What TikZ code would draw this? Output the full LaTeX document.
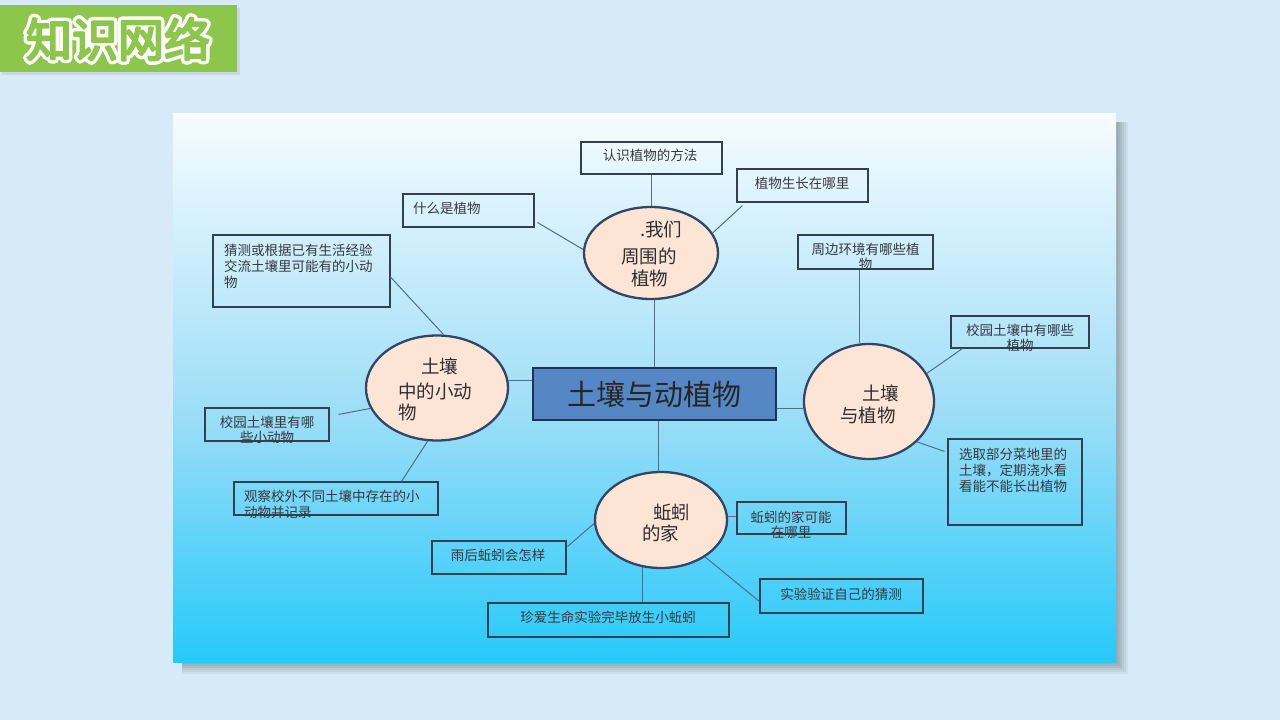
\documentclass[tikz,border=0pt]{standalone}
\usepackage{fontspec}
\usetikzlibrary{shapes.geometric,calc}
\newfontfamily\cjk{Noto Sans CJK SC}
\definecolor{bgc}{RGB}{214,235,247}
\definecolor{titlegreen}{RGB}{140,198,74}
\definecolor{ellfill}{RGB}{253,229,213}
\definecolor{ellc}{RGB}{50,70,104}
\definecolor{boxc}{RGB}{50,64,80}
\definecolor{linkc}{RGB}{80,110,140}
\definecolor{txtc}{RGB}{55,55,60}
\definecolor{etxtc}{RGB}{45,45,50}
\definecolor{cfill}{RGB}{84,135,196}
\definecolor{cborder}{RGB}{28,52,88}
\pgfdeclareverticalshading{panelshade}{100bp}{rgb(0bp)=(0.15,0.79,0.98); rgb(25bp)=(0.15,0.79,0.98); rgb(48bp)=(0.62,0.87,0.97); rgb(75bp)=(0.965,0.988,1); rgb(100bp)=(0.965,0.988,1)}
\tikzset{
  ell/.style={ellipse, draw=ellc, line width=2.3pt, fill=ellfill, inner sep=0pt},
  box/.style={rectangle, draw=boxc, line width=1.1pt, inner sep=0pt},
  link/.style={draw=linkc, line width=1pt},
  btxt/.style={font=\cjk\fontsize{13.5}{16}\selectfont, text=txtc, inner sep=0pt},
  etxt/.style={font=\cjk\fontsize{18.5}{23}\selectfont, text=etxtc, inner sep=0pt, anchor=west},
  titlefont/.style={font=\cjk\fontsize{46}{50}\selectfont, inner sep=0pt},
}
\begin{document}
\begin{tikzpicture}[x=1pt,y=-1pt]
\useasboundingbox (0,0) rectangle (1280,720);
\fill[bgc] (0,0) rectangle (1280,720);
% title
\fill[black,opacity=0.08] (2,8) rectangle (240,75);
\node[rectangle, fill=titlegreen, minimum width=237pt, minimum height=67pt, inner sep=0pt] (title) at (118.5,38.5) {};
\node[titlefont, text=white] (titleout) at (118,39) {\special{pdf:literal direct 2 Tr 9 w 1 j 1 J 1 1 1 RG}知识网络\special{pdf:literal direct 0 Tr}};
\node[titlefont, text=titlegreen] (titletxt) at (118,39) {\special{pdf:literal direct 2 Tr 2.2 w 1 j 1 J}知识网络\special{pdf:literal direct 0 Tr}};
% panel shadow
\foreach \d in {2,4,...,12} {
  \fill[black,opacity=0.05] (182,122) rectangle (1116+\d,662+\d);
}
\shade[shading=panelshade] (173,113) rectangle (1116,662);
% central box
\node[rectangle, draw=cborder, line width=2pt, fill=cfill, minimum width=243pt, minimum height=52pt, inner sep=0pt,
      font=\cjk\fontsize{29}{32}\selectfont, text=black!85] (c) at (654.5,394) {土壤与动植物};
% ellipses
\node[ell, minimum width=134pt, minimum height=92pt] (e1) at (651,253) {};
\node[ell, minimum width=142pt, minimum height=105pt] (e2) at (437,388) {};
\node[ell, minimum width=130pt, minimum height=115pt] (e3) at (869,401.5) {};
\node[ell, minimum width=132pt, minimum height=96pt] (e4) at (661,520) {};
% ellipse texts
\node[etxt] (e1a) at (640,230) {.我们};
\node[etxt] (e1b) at (621,256) {周围的};
\node[etxt] (e1c) at (631,278) {植物};
\node[etxt] (e2a) at (421,366) {土壤};
\node[etxt] (e2b) at (398,391) {中的小动};
\node[etxt] (e2c) at (398,412) {物};
\node[etxt] (e3a) at (862,393) {土壤};
\node[etxt] (e3b) at (840,415) {与植物};
\node[etxt] (e4a) at (653,512) {蚯蚓};
\node[etxt] (e4b) at (642,533) {的家};
% boxes
\node[box, minimum width=141pt, minimum height=32pt] (b1) at (651.5,158) {};
\node[box, minimum width=131pt, minimum height=33pt] (b2) at (802.5,185.5) {};
\node[box, minimum width=131pt, minimum height=33pt] (b3) at (468.5,210.5) {};
\node[box, minimum width=177pt, minimum height=72pt] (b4) at (301.5,271) {};
\node[box, minimum width=135pt, minimum height=34pt] (b5) at (865.5,252) {};
\node[box, minimum width=138pt, minimum height=32pt] (b6) at (1020,332) {};
\node[box, minimum width=134pt, minimum height=86pt] (b7) at (1015,482) {};
\node[box, minimum width=124pt, minimum height=33pt] (b9) at (267,424.5) {};
\node[box, minimum width=204pt, minimum height=33pt] (b10) at (336,498.5) {};
\node[box, minimum width=109pt, minimum height=32pt] (b11) at (791.5,518) {};
\node[box, minimum width=134pt, minimum height=33pt] (b12) at (499,557.5) {};
\node[box, minimum width=163pt, minimum height=34pt] (b13) at (841.5,596) {};
\node[box, minimum width=241pt, minimum height=34pt] (b14) at (608.5,620) {};
% box texts
\node[btxt] (t1) at (650,155) {认识植物的方法};
\node[btxt] (t2) at (802,183) {植物生长在哪里};
\node[btxt, anchor=west] (t3) at (413,208) {什么是植物};
\node[btxt, anchor=west, align=left] (t4) at (224,266) {猜测或根据已有生活经验\\交流土壤里可能有的小动\\物};
\node[btxt, align=center, font=\cjk\fontsize{13.5}{14.5}\selectfont] (t5) at (865.5,257) {周边环境有哪些植\\物};
\node[btxt, align=center, font=\cjk\fontsize{13.5}{15}\selectfont] (t6) at (1020,337.5) {校园土壤中有哪些\\植物};
\node[btxt, anchor=west, align=left] (t7) at (959,470) {选取部分菜地里的\\土壤，定期浇水看\\看能不能长出植物};
\node[btxt, align=center, font=\cjk\fontsize{13.5}{15}\selectfont] (t9) at (267,429.5) {校园土壤里有哪\\些小动物};
\node[btxt, anchor=west, align=left] (t10) at (244,504) {观察校外不同土壤中存在的小\\动物并记录};
\node[btxt, align=center, font=\cjk\fontsize{13.5}{15}\selectfont] (t11) at (791,524.5) {蚯蚓的家可能\\在哪里};
\node[btxt] (t12) at (498,555) {雨后蚯蚓会怎样};
\node[btxt] (t13) at (841,594) {实验验证自己的猜测};
\node[btxt] (t14) at (608,617) {珍爱生命实验完毕放生小蚯蚓};
% connectors
\draw[link] (c.north) -- (c.north |- e1.south);
\draw[link] (e2.6) -- (e2.6 -| c.west);
\draw[link] (e3.186) -- (e3.186 -| c.east);
\draw[link] (e4.93) -- (e4.93 |- c.south);
\draw[link] (e1.north) -- (e1.north |- b1.south);
\draw[link] ($(b2.south west)+(6,3)$) -- (e1.18);
\draw[link] ($(b3.south east)+(3,-5)$) -- (e1.177);
\draw[link] ($(b4.east)+(0,6)$) -- (e2.83);
\draw[link] ($(b9.north east)+(9,7)$) -- (e2.197);
\draw[link] ($(b10.north west)+(168,0)$) -- (e2.260);
\draw[link] (e3.99) -- (e3.99 |- b5.south);
\draw[link] ($(b6.south west)+(12,0)$) -- (e3.26);
\draw[link] ($(b7.north west)+(-3,13)$) -- (e3.320);
\draw[link] (e4.3) -- (e4.3 -| b11.west);
\draw[link] ($(b12.north east)+(1,6)$) -- (e4.183);
\draw[link] (e4.320) -- ($(b13.north west)+(0,23)$);
\draw[link] (e4.249) -- (e4.249 |- b14.north);
\end{tikzpicture}
\end{document}
